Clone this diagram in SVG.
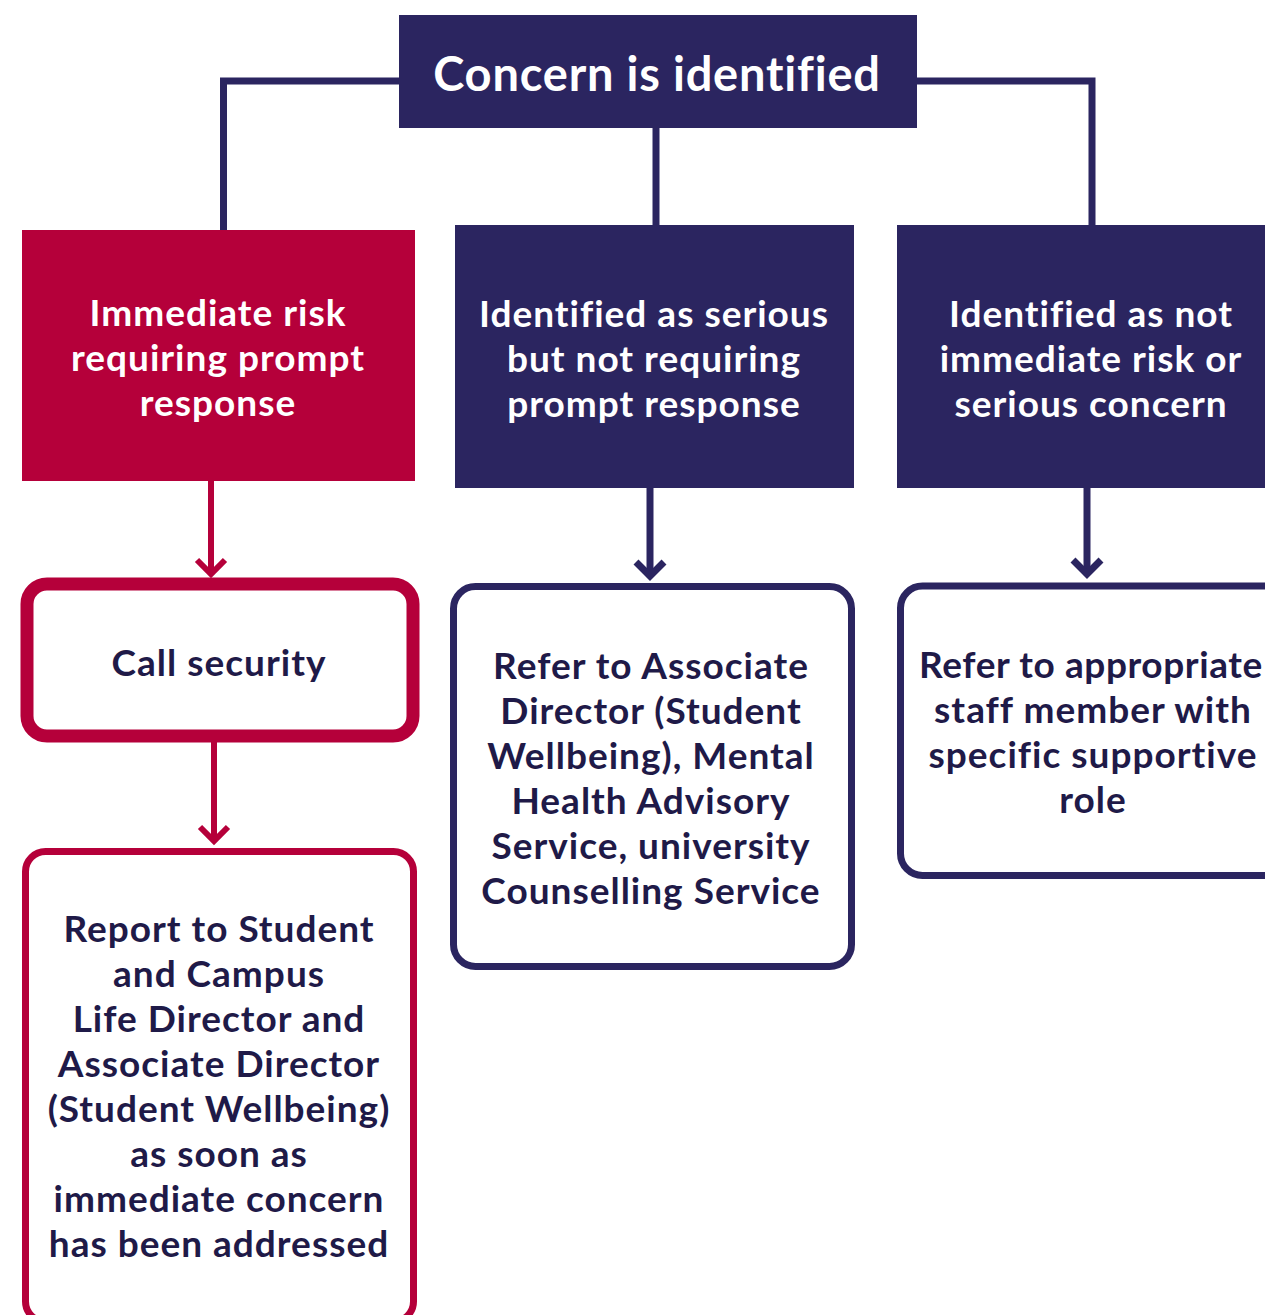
<svg xmlns="http://www.w3.org/2000/svg" width="1265" height="1315" viewBox="0 0 1265 1315">
<style>
.navy{fill:#2b2560}
.red{fill:#b5003a}
.t{font-family:Lato,"Noto Sans","DejaVu Sans",sans-serif;font-weight:700;text-anchor:middle}
.w{fill:#ffffff;font-size:37px;letter-spacing:1px}
.d{fill:#1f1a48;font-size:37px;letter-spacing:1px}
.title{fill:#ffffff;font-size:47px;letter-spacing:0.8px}
.ln{fill:none;stroke:#2b2560;stroke-width:7}
.lr{fill:none;stroke:#b5003a;stroke-width:6}
.ob{fill:#ffffff;stroke:#2b2560;stroke-width:7}
</style>
<rect width="1265" height="1315" fill="#ffffff"/>
<g id="connectors">
<polyline class="ln" points="399,81 223.5,81 223.5,230"/>
<polyline class="ln" points="917,81 1092,81 1092,225"/>
<line class="ln" x1="656" y1="128" x2="656" y2="225"/>
<line class="lr" x1="211" y1="481" x2="211" y2="574"/>
<polyline class="lr" points="197,560 211,574 225,560"/>
<line class="lr" x1="214" y1="742" x2="214" y2="841"/>
<polyline class="lr" points="200,827 214,841 228,827"/>
<line class="ln" x1="650" y1="488" x2="650" y2="576"/>
<polyline class="ln" points="636,562 650,576 664,562"/>
<line class="ln" x1="1087" y1="488" x2="1087" y2="574"/>
<polyline class="ln" points="1073,560 1087,574 1101,560"/>
</g>
<g id="concern">
<rect class="navy" x="399" y="15" width="518" height="113"/>
<text class="t title" x="657" y="91">Concern is identified</text>
</g>
<g id="immediate">
<rect class="red" x="22" y="230" width="393" height="251"/>
<text class="t w" x="218" y="326">Immediate risk</text>
<text class="t w" x="218" y="371">requiring prompt</text>
<text class="t w" x="218" y="416">response</text>
</g>
<g id="serious">
<rect class="navy" x="455" y="225" width="399" height="263"/>
<text class="t w" x="654" y="327">Identified as serious</text>
<text class="t w" x="654" y="372">but not requiring</text>
<text class="t w" x="654" y="417">prompt response</text>
</g>
<g id="notimmediate">
<rect class="navy" x="897" y="225" width="380" height="263"/>
<text class="t w" x="1091" y="327">Identified as not</text>
<text class="t w" x="1091" y="372">immediate risk or</text>
<text class="t w" x="1091" y="417">serious concern</text>
</g>
<g id="callsecurity">
<rect x="27" y="584" width="386" height="152" rx="20" fill="#ffffff" stroke="#b5003a" stroke-width="13"/>
<text class="t d" x="219" y="676">Call security</text>
</g>
<g id="report">
<rect x="25.5" y="851.5" width="388" height="470" rx="20" fill="#ffffff" stroke="#b5003a" stroke-width="7"/>
<text class="t d" x="219" y="942">Report to Student</text>
<text class="t d" x="219" y="987">and Campus</text>
<text class="t d" x="219" y="1032">Life Director and</text>
<text class="t d" x="219" y="1077">Associate Director</text>
<text class="t d" x="219" y="1122">(Student Wellbeing)</text>
<text class="t d" x="219" y="1167">as soon as</text>
<text class="t d" x="219" y="1212">immediate concern</text>
<text class="t d" x="219" y="1257">has been addressed</text>
</g>
<g id="referassociate">
<rect class="ob" x="453.5" y="586.5" width="398" height="380" rx="22"/>
<text class="t d" x="651" y="679">Refer to Associate</text>
<text class="t d" x="651" y="724">Director (Student</text>
<text class="t d" x="651" y="769">Wellbeing), Mental</text>
<text class="t d" x="651" y="814">Health Advisory</text>
<text class="t d" x="651" y="859">Service, university</text>
<text class="t d" x="651" y="904">Counselling Service</text>
</g>
<g id="referstaff">
<rect class="ob" x="900.5" y="586" width="400" height="289.5" rx="22"/>
<text class="t d" x="1091" y="678" style="letter-spacing:0.6px">Refer to appropriate</text>
<text class="t d" x="1093" y="723">staff member with</text>
<text class="t d" x="1093" y="768">specific supportive</text>
<text class="t d" x="1093" y="813">role</text>
</g>
</svg>
